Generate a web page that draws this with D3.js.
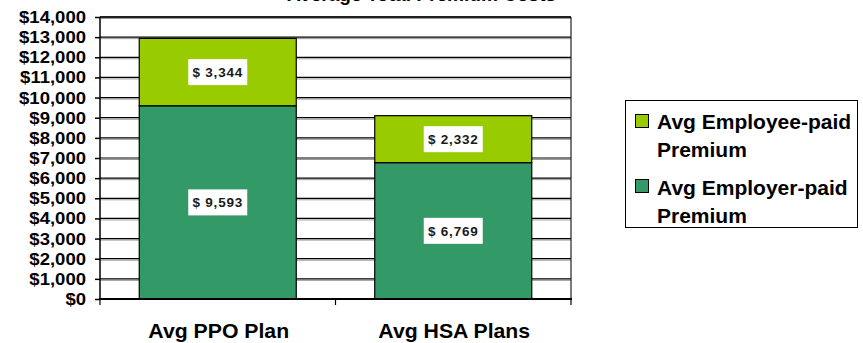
<!DOCTYPE html>
<html>
<head>
<meta charset="utf-8">
<script src="https://cdn.jsdelivr.net/npm/d3@7"></script>
<style>
  html, body { margin: 0; padding: 0; background: #fff; }
  svg { display: block; font-family: Arial, "Liberation Sans", sans-serif; }
</style>
</head>
<body>
<svg id="chart" width="863" height="343"></svg>
<script>
// ---- data ----
const categories = ["Avg PPO Plan", "Avg HSA Plans"];
const seriesNames = ["Avg Employer-paid Premium", "Avg Employee-paid Premium"];
const employerPaid = [9593, 6769];
const employeePaid = [3344, 2332];
const yTicks = [0,1000,2000,3000,4000,5000,6000,7000,8000,9000,10000,11000,12000,13000,14000];
const titleText = "Average Total Premium Costs";
const legendLines = [["Avg Employee-paid", "Premium"], ["Avg Employer-paid", "Premium"]];

const colors = { employer: "#339966", employee: "#99CC00" };
const SX = 1.09; // horizontal stretch of the original rendering

const svg = d3.select("#chart");
const plot = { left: 100, right: 571, top: 17, bottom: 299 };

const y = d3.scaleLinear().domain([0, 14000]).range([plot.bottom, plot.top]);
const x = d3.scaleBand().domain(categories).range([plot.left, plot.right])
  .paddingInner(1/3).paddingOuter(1/6);
const fmt = d3.format(",");

function stretchedText(g, txt, px, py, size, anchor, sx) {
  return g.append("text")
    .attr("transform", `translate(${px},${py}) scale(${sx || SX},1)`)
    .attr("text-anchor", anchor || "start")
    .attr("font-size", size)
    .attr("font-weight", "bold")
    .attr("fill", "#000")
    .text(txt);
}

// title (cropped at top in reference)
stretchedText(svg, titleText, 287, 0.5, 17.5, "start");

// gridlines
const grid = svg.append("g");
yTicks.filter(v => v > 0).forEach(v => {
  grid.append("line").attr("x1", plot.left).attr("x2", plot.right)
    .attr("y1", y(v) + 1.5).attr("y2", y(v) + 1.5)
    .attr("stroke", "#999").attr("stroke-width", 1);
  grid.append("line").attr("x1", plot.left).attr("x2", plot.right)
    .attr("y1", y(v)).attr("y2", y(v))
    .attr("stroke", "#000").attr("stroke-width", 1.2);
});
// right border
svg.append("line").attr("x1", plot.right).attr("x2", plot.right)
  .attr("y1", plot.top).attr("y2", plot.bottom)
  .attr("stroke", "#222").attr("stroke-width", 1.2);

// stacked data
const stackData = categories.map((c, i) => ({ cat: c, employer: employerPaid[i], employee: employeePaid[i] }));
const stack = d3.stack().keys(["employer", "employee"])(stackData);

const barsG = svg.append("g");
stack.forEach(layer => {
  barsG.selectAll(null).data(layer).enter().append("rect")
    .attr("x", d => x(d.data.cat))
    .attr("width", x.bandwidth())
    .attr("y", d => y(d[1]))
    .attr("height", d => y(d[0]) - y(d[1]))
    .attr("fill", colors[layer.key])
    .attr("stroke", "#000")
    .attr("stroke-width", 1.2);
});

// value labels
const labelsG = svg.append("g");
stack.forEach(layer => {
  layer.forEach(d => {
    const cx = x(d.data.cat) + x.bandwidth() / 2;
    const cy = (y(d[0]) + y(d[1])) / 2;
    labelsG.append("rect")
      .attr("x", cx - 29.5).attr("y", cy - 13)
      .attr("width", 59).attr("height", 26)
      .attr("fill", "#fff");
    labelsG.append("text")
      .attr("x", cx).attr("y", cy)
      .attr("dy", "0.36em")
      .attr("text-anchor", "middle")
      .attr("font-size", 13.5)
      .attr("font-weight", "bold")
      .attr("letter-spacing", "0.8px")
      .attr("fill", "#1a1a1a")
      .text("$ " + fmt(d[1] - d[0]));
  });
});

// y axis
const yAxisG = svg.append("g").attr("transform", `translate(${plot.left},0)`)
  .call(d3.axisLeft(y).tickValues(yTicks).tickSize(5).tickPadding(9)
    .tickFormat(d => "$" + fmt(d)));
yAxisG.select(".domain").attr("stroke", "#000").attr("stroke-width", 1.5)
  .attr("d", `M0,${plot.top}V${plot.bottom}`);
yAxisG.selectAll(".tick line").attr("stroke", "#000").attr("stroke-width", 1.5);
yAxisG.selectAll(".tick text")
  .attr("x", null)
  .attr("transform", `translate(-14,0) scale(${SX},1)`)
  .attr("font-size", 17)
  .attr("font-weight", "bold")
  .attr("font-family", "Arial, 'Liberation Sans', sans-serif")
  .attr("fill", "#000");

// top border
svg.append("line").attr("x1", plot.left).attr("x2", plot.right)
  .attr("y1", plot.top).attr("y2", plot.top)
  .attr("stroke", "#000").attr("stroke-width", 1.5);

// x axis
const xAxisG = svg.append("g");
xAxisG.append("line").attr("x1", plot.left - 1).attr("x2", plot.right + 1)
  .attr("y1", plot.bottom).attr("y2", plot.bottom)
  .attr("stroke", "#000").attr("stroke-width", 2.2);
const step = x.step();
[plot.left, plot.left + step, plot.right].forEach(px => {
  xAxisG.append("line").attr("x1", px).attr("x2", px)
    .attr("y1", plot.bottom).attr("y2", plot.bottom + 6)
    .attr("stroke", "#000").attr("stroke-width", 1.2);
});
categories.forEach(c => {
  stretchedText(xAxisG, c, x(c) + x.bandwidth() / 2 + 1, 338, 19.5, "middle");
});

// legend
const lg = svg.append("g");
lg.append("rect").attr("x", 625.5).attr("y", 100.5).attr("width", 232).attr("height", 127)
  .attr("fill", "#fff").attr("stroke", "#000").attr("stroke-width", 1);
const legendColors = [colors.employee, colors.employer];
const swatchTop = [114, 179];
const textBase = [129, 195];
legendLines.forEach((lines, i) => {
  lg.append("rect").attr("x", 635.5).attr("y", swatchTop[i] + 0.5)
    .attr("width", 13).attr("height", 13)
    .attr("fill", legendColors[i]).attr("stroke", "#000").attr("stroke-width", 1);
  lines.forEach((t, j) => {
    stretchedText(lg, t, 657, textBase[i] + j * 28, 21, "start", 1);
  });
});
</script>
</body>
</html>
